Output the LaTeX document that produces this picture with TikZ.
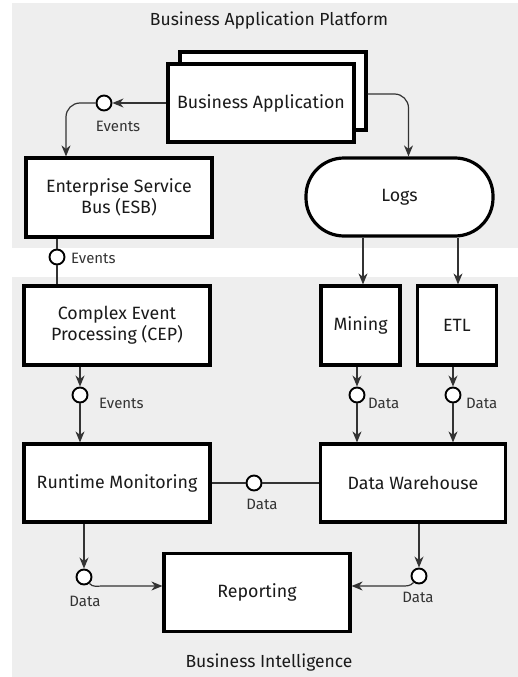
\documentclass[tikz,border=0pt]{standalone}
\usepackage{fontspec}
\newfontfamily\uf{Fira Sans}
\usetikzlibrary{arrows.meta,calc}
\definecolor{bggray}{HTML}{EEEEEE}
\definecolor{txt}{HTML}{1A1A1A}
\definecolor{lbl}{HTML}{333333}
\begin{document}
\begin{tikzpicture}[x=1pt,y=1pt,
  box/.style={draw=black, line width=3.2pt, fill=white, align=center, text=txt,
    font=\uf\fontsize{17.8}{21}\selectfont, inner sep=0pt},
  circ/.style={circle, draw=black, line width=1.9pt, fill=white, minimum size=15pt, inner sep=0pt},
  conn/.style={line width=1.2pt, draw=black!80},
  arr/.style={conn, -{Stealth[length=11pt,width=9pt,inset=3.5pt]}},
  lab/.style={font=\uf\fontsize{15}{17}\selectfont, text=lbl, inner sep=0pt},
  ttl/.style={font=\uf\fontsize{17.5}{20}\selectfont, text=txt, inner sep=0pt}]
\useasboundingbox (0,0) rectangle (518,-677);
\fill[bggray] (12,-3) rectangle (518,-248);
\fill[bggray] (12,-277) rectangle (518,-677);
\node[ttl] (t1) at (269,-21) {Business Application Platform};
\node[ttl] (t2) at (269,-663) {Business Intelligence};

\node[box, minimum width=186pt, minimum height=78pt] (bab) at (273,-91) {};
\node[box, minimum width=186pt, minimum height=78pt] (ba) at (261,-103) {Business Application};
\node[box, minimum width=186pt, minimum height=79pt] (esb) at (119,-197.5) {Enterprise Service\\Bus (ESB)};
\node[box, minimum width=187pt, minimum height=78pt, rounded corners=38pt] (logs) at (399.5,-197) {Logs};
\node[box, minimum width=186pt, minimum height=79pt] (cep) at (117,-325.5) {Complex Event\\Processing (CEP)};
\node[box, minimum width=79pt, minimum height=79pt] (mining) at (360.5,-325.5) {Mining};
\node[box, minimum width=79pt, minimum height=79pt] (etl) at (457,-325.5) {ETL};
\node[box, minimum width=186pt, minimum height=78pt] (rm) at (117,-483) {Runtime Monitoring};
\node[box, minimum width=185pt, minimum height=78pt] (dw) at (413,-483) {Data Warehouse};
\node[box, minimum width=186pt, minimum height=78pt] (rep) at (257,-592.5) {Reporting};

\node[circ] (c1) at (104,-103) {};
\node[circ] (c2) at (57,-257) {};
\node[circ] (c3) at (80,-395) {};
\node[circ] (c4) at (357,-395) {};
\node[circ] (c5) at (453,-395) {};
\node[circ] (c6) at (254,-483) {};
\node[circ] (c7) at (84,-577) {};
\node[circ] (c8) at (419,-576) {};

\node[lab] (l1) at (118,-126) {Events};
\node[lab, anchor=west] (l2) at (71,-258) {Events};
\node[lab, anchor=west] (l3) at (99,-403) {Events};
\node[lab, anchor=west] (l4) at (368,-403) {Data};
\node[lab, anchor=west] (l5) at (466,-403) {Data};
\node[lab] (l6) at (262,-504) {Data};
\node[lab] (l7) at (85,-601) {Data};
\node[lab] (l8) at (418,-597) {Data};

% Business Application -> Events -> ESB
\draw[arr] (ba.west) -- (c1.east);
\draw[arr, rounded corners=14pt] (c1.west) -| ([xshift=-53pt]esb.north);
% Business Application -> Logs
\draw[arr, rounded corners=14pt] ([yshift=-3pt]bab.east) -| ([xshift=9pt]logs.north);
% ESB -> Events -> CEP
\draw[conn] (c2 |- esb.south) -- (c2.north);
\draw[conn] (c2.south) -- (c2 |- cep.north);
% Logs -> Mining, ETL
\coordinate (mtop) at ([xshift=2.5pt]mining.north);
\coordinate (etop) at ([xshift=1pt]etl.north);
\draw[arr] (mtop |- logs.south) -- (mtop);
\draw[arr] (etop |- logs.south) -- (etop);
% CEP -> Events -> RM
\draw[arr] (c3 |- cep.south) -- (c3.north);
\draw[arr] (c3.south) -- (c3 |- rm.north);
% Mining -> Data -> DW
\draw[arr] (c4 |- mining.south) -- (c4.north);
\draw[arr] (c4.south) -- (c4 |- dw.north);
% ETL -> Data -> DW
\draw[arr] (c5 |- etl.south) -- (c5.north);
\draw[arr] (c5.south) -- (c5 |- dw.north);
% RM -- Data -- DW
\draw[conn] (rm.east) -- (c6.west);
\draw[conn] (c6.east) -- (dw.east -| dw.west);
% RM -> Data -> Reporting
\draw[arr] (c7 |- rm.south) -- (c7.north);
\coordinate (r7) at ([yshift=6.5pt]rep.west);
\draw[arr] (c7.-50) to[out=-50,in=180] ([xshift=-60pt]r7) -- (r7);
% DW -> Data -> Reporting
\draw[arr] (c8 |- dw.south) -- (c8.north);
\coordinate (r8) at ([yshift=6.5pt]rep.east);
\draw[arr] (c8.-130) to[out=-130,in=0] ([xshift=50pt]r8) -- (r8);
\end{tikzpicture}
\end{document}
